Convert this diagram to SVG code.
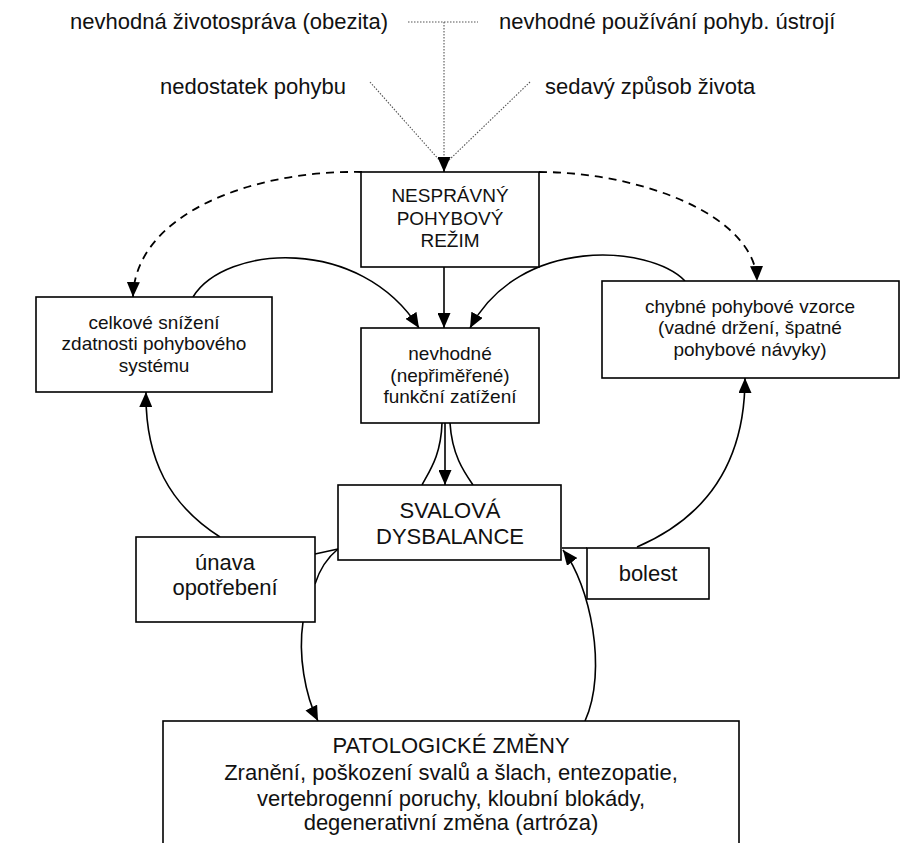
<svg xmlns="http://www.w3.org/2000/svg" width="902" height="843" viewBox="0 0 902 843">
<style>
  text { font-family: "Liberation Sans", Arial, sans-serif; fill: #111; text-anchor: middle; }
  .s19 { font-size: 19px; }
  .s22 { font-size: 22px; }
  .top { font-size: 22px; text-anchor: start; }
  .box { fill: #fff; stroke: #000; stroke-width: 1.6; }
  .ln { fill: none; stroke: #000; stroke-width: 1.6; }
  .dash { fill: none; stroke: #000; stroke-width: 1.8; stroke-dasharray: 8 6; }
  .dot { fill: none; stroke: #555; stroke-width: 1.1; stroke-dasharray: 1.5 1.5; }
</style>
<defs>
  <marker id="ah" markerUnits="userSpaceOnUse" markerWidth="15" markerHeight="13" refX="15" refY="6.5" orient="auto">
    <path d="M0,0 L15,6.5 L0,13 z" fill="#000"/>
  </marker>
</defs>
<rect width="902" height="843" fill="#fff"/>

<g id="sources">
  <text class="top" x="70" y="29">nevhodná životospráva (obezita)</text>
  <text class="top" x="499" y="29">nevhodné používání pohyb. ústrojí</text>
  <text class="top" x="160" y="94">nedostatek pohybu</text>
  <text class="top" x="545" y="94">sedavý způsob života</text>
</g>

<g id="connectors">
  <!-- dotted inputs -->
  <path class="dot" d="M408,22 H478"/>
  <path class="dot" d="M444,22 V160"/>
  <path class="dot" d="M370,82 L441,162"/>
  <path class="dot" d="M530,82 L447,162"/>
  <path class="ln" d="M444,158 V172" marker-end="url(#ah)"/>
  <!-- dashed arcs from NESPRÁVNÝ -->
  <path class="dash" d="M362,172 C250,170 135,215 133,297" marker-end="url(#ah)"/>
  <path class="dash" d="M539,172 C640,172 755,215 757,281" marker-end="url(#ah)"/>
  <!-- solid arcs into nevhodné -->
  <path class="ln" d="M193,297 C225,245 360,235 419,328" marker-end="url(#ah)"/>
  <path class="ln" d="M685,281 C650,245 520,235 470,328" marker-end="url(#ah)"/>
  <path class="ln" d="M444,267 V328" marker-end="url(#ah)"/>
  <!-- nevhodné -> SVALOVÁ -->
  <path class="ln" d="M445,423 V485" marker-end="url(#ah)"/>
  <path class="ln" d="M442,423 C441,455 430,470 422,485"/>
  <path class="ln" d="M450,423 C452,455 464,472 473,485"/>
  <!-- únava -> celkové -->
  <path class="ln" d="M220,537 C170,505 145,460 146,392" marker-end="url(#ah)"/>
  <!-- bolest -> chybné -->
  <path class="ln" d="M637,547 C700,520 745,470 745,378" marker-end="url(#ah)"/>
  <!-- únava <-> SVALOVÁ -->
  <path class="ln" d="M315,554 L338,549"/>
  <path class="ln" d="M315,584 Q322,562 338,549"/>
  <!-- únava -> PATOLOGICKÉ -->
  <path class="ln" d="M303,622 C298,655 305,695 318,721" marker-end="url(#ah)"/>
  <!-- PATOLOGICKÉ -> SVALOVÁ -->
  <path class="ln" d="M585,721 C608,670 590,585 563,550" marker-end="url(#ah)"/>
  <!-- bolest -> SVALOVÁ -->
  <path class="ln" d="M587,548 L562,548"/>
</g>

<g id="nespravny">
  <rect class="box" x="361" y="172" width="178" height="95"/>
  <text class="s19" x="450" y="202">NESPRÁVNÝ</text>
  <text class="s19" x="450" y="224.5">POHYBOVÝ</text>
  <text class="s19" x="450" y="247">REŽIM</text>
</g>

<g id="celkove">
  <rect class="box" x="36" y="297" width="236" height="95"/>
  <text class="s19" x="154" y="328.5">celkové snížení</text>
  <text class="s19" x="154" y="350">zdatnosti pohybového</text>
  <text class="s19" x="154" y="371.5">systému</text>
</g>

<g id="nevhodne">
  <rect class="box" x="361" y="328" width="178" height="95"/>
  <text class="s19" x="450" y="360">nevhodné</text>
  <text class="s19" x="450" y="381.5">(nepřiměřené)</text>
  <text class="s19" x="450" y="403">funkční zatížení</text>
</g>

<g id="chybne">
  <rect class="box" x="602" y="281" width="297" height="97"/>
  <text class="s19" x="750" y="312.5">chybné pohybové vzorce</text>
  <text class="s19" x="750" y="334">(vadné držení, špatné</text>
  <text class="s19" x="750" y="355.5">pohybové návyky)</text>
</g>

<g id="svalova">
  <rect class="box" x="338" y="485" width="223" height="75"/>
  <text class="s22" x="450" y="517.5">SVALOVÁ</text>
  <text class="s22" x="450" y="543.5">DYSBALANCE</text>
</g>

<g id="unava">
  <rect class="box" x="136" y="537" width="179" height="85"/>
  <text class="s22" x="225" y="569.5">únava</text>
  <text class="s22" x="225" y="594.5">opotřebení</text>
</g>

<g id="bolest">
  <rect class="box" x="587" y="548" width="122" height="51"/>
  <text class="s22" x="648" y="581">bolest</text>
</g>

<g id="patologicke">
  <rect class="box" x="163" y="721" width="576" height="140"/>
  <text class="s22" x="451" y="753">PATOLOGICKÉ ZMĚNY</text>
  <text class="s22" x="451" y="779.5">Zranění, poškození svalů a šlach, entezopatie,</text>
  <text class="s22" x="451" y="806">vertebrogenní poruchy, kloubní blokády,</text>
  <text class="s22" x="451" y="829.5">degenerativní změna (artróza)</text>
</g>
</svg>
